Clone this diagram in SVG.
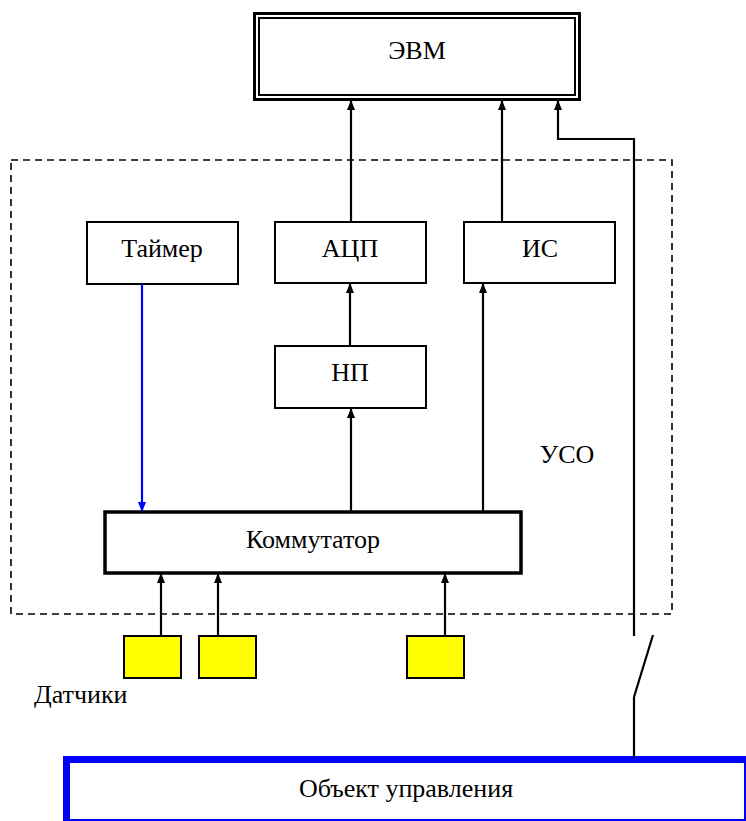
<svg xmlns="http://www.w3.org/2000/svg" width="746" height="821" viewBox="0 0 746 821">
<defs>
<marker id="ah" markerWidth="10" markerHeight="10" refX="9" refY="5" orient="auto" markerUnits="userSpaceOnUse" viewBox="0 0 10 10"><path d="M0,1 L10,5 L0,9 z" fill="#000"/></marker>
<marker id="ahb" markerWidth="10" markerHeight="10" refX="9" refY="5" orient="auto" markerUnits="userSpaceOnUse" viewBox="0 0 10 10"><path d="M0,1 L10,5 L0,9 z" fill="#0000ff"/></marker>
</defs>
<style>
.box{fill:#fff;stroke:#000;stroke-width:2}
.t{font-family:'Liberation Serif','DejaVu Serif',serif;font-size:26px;fill:#000;text-anchor:middle}
.c{fill:none;stroke:#000;stroke-width:2.2}
.s{fill:#ffff00;stroke:#000;stroke-width:2}
</style>
<rect width="746" height="821" fill="#fff"/>
<g id="uso">
<rect x="11" y="160" width="661" height="454" fill="none" stroke="#000" stroke-width="1.6" stroke-dasharray="7,5"/>
<text class="t" x="567" y="463">УСО</text>
</g>
<g id="evm">
<rect x="254.5" y="13.5" width="325" height="86" fill="#fff" stroke="#000" stroke-width="3"/>
<rect x="259" y="18" width="316" height="77" fill="none" stroke="#000" stroke-width="2"/>
<text class="t" x="417" y="59">ЭВМ</text>
</g>
<g id="timer">
<rect class="box" x="87" y="222" width="151" height="62"/>
<text class="t" x="162" y="257">Таймер</text>
</g>
<g id="adc">
<rect class="box" x="275" y="222" width="151" height="61"/>
<text class="t" x="350" y="257">АЦП</text>
</g>
<g id="is">
<rect class="box" x="464" y="222" width="151" height="61"/>
<text class="t" x="540" y="257">ИС</text>
</g>
<g id="np">
<rect class="box" x="275" y="346" width="151" height="62"/>
<text class="t" x="350" y="381">НП</text>
</g>
<g id="kommutator">
<rect x="105" y="512" width="416" height="61" fill="#fff" stroke="#000" stroke-width="3.5"/>
<text class="t" x="313" y="548">Коммутатор</text>
</g>
<g id="sensor1"><rect class="s" x="124" y="636" width="57" height="42"/></g>
<g id="sensor2"><rect class="s" x="199" y="636" width="57" height="42"/></g>
<g id="sensor3"><rect class="s" x="407" y="636" width="57" height="42"/></g>
<g id="sensors-label"><text class="t" x="34" y="703" style="text-anchor:start">Датчики</text></g>
<g id="object">
<rect x="64" y="758" width="681" height="62" fill="#fff" stroke="#0000ff" stroke-width="2"/>
<line x1="63" y1="759.5" x2="746" y2="759.5" stroke="#0000ff" stroke-width="7"/>
<line x1="66.5" y1="756" x2="66.5" y2="821" stroke="#0000ff" stroke-width="7"/>
<text class="t" x="406" y="797">Объект управления</text>
</g>
<g id="connectors">
<line class="c" x1="351" y1="222" x2="351" y2="101" marker-end="url(#ah)"/>
<line class="c" x1="502" y1="222" x2="502" y2="101" marker-end="url(#ah)"/>
<polyline class="c" points="634,636 634,139 558,139 558,101" marker-end="url(#ah)"/>
<line class="c" x1="653" y1="635" x2="634" y2="697"/>
<line class="c" x1="634" y1="697" x2="634" y2="758"/>
<line class="c" x1="350" y1="346" x2="350" y2="284" marker-end="url(#ah)"/>
<line class="c" x1="351" y1="512" x2="351" y2="409" marker-end="url(#ah)"/>
<line class="c" x1="483" y1="512" x2="483" y2="284" marker-end="url(#ah)"/>
<line x1="142" y1="284" x2="142" y2="511" fill="none" stroke="#0000ff" stroke-width="2.2" marker-end="url(#ahb)"/>
<line class="c" x1="161" y1="636" x2="161" y2="574" marker-end="url(#ah)"/>
<line class="c" x1="218" y1="636" x2="218" y2="574" marker-end="url(#ah)"/>
<line class="c" x1="445" y1="636" x2="445" y2="574" marker-end="url(#ah)"/>
</g>
</svg>
